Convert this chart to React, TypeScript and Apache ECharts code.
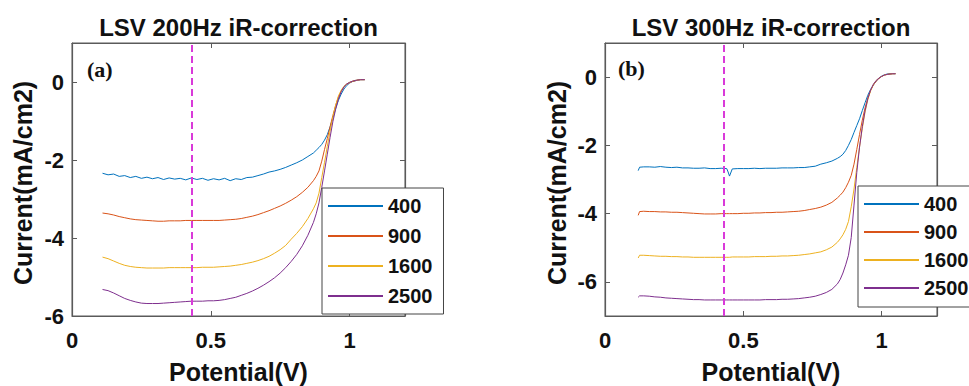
import React, { useEffect, useRef } from "react";
import * as echarts from "echarts";

// ---------- Data ----------
const seriesNames = ["400", "900", "1600", "2500"];
const seriesColors = ["#0072BD", "#D95319", "#EDB120", "#7E2F8E"];
const titles = ["LSV 200Hz iR-correction", "LSV 300Hz iR-correction"];
const panelLabels = ["(a)", "(b)"];
const xTicks = [0, 0.5, 1];
const yTicksA = [-6, -4, -2, 0];
const yTicksB = [-6, -4, -2, 0];
const markerPotential = 0.43;

// Panel (a): 200 Hz
const potentialA = [
  0.11, 0.13, 0.15, 0.17, 0.19, 0.21, 0.23, 0.25, 0.27, 0.29, 0.31, 0.33, 0.35, 0.37, 0.39,
  0.41, 0.43, 0.45, 0.47, 0.49, 0.51, 0.53, 0.55, 0.57, 0.59, 0.61, 0.63, 0.65, 0.67, 0.69,
  0.71, 0.73, 0.75, 0.77, 0.79, 0.81, 0.83, 0.85, 0.87, 0.88, 0.89, 0.9, 0.91, 0.92, 0.93,
  0.94, 0.95, 0.96, 0.97, 0.98, 0.99, 1.0, 1.01, 1.02, 1.03, 1.04, 1.055,
];
const a400 = [
  -2.34, -2.38, -2.36, -2.42, -2.4, -2.45, -2.42, -2.47, -2.44, -2.48, -2.45, -2.5, -2.46, -2.49, -2.47,
  -2.51, -2.46, -2.5, -2.47, -2.52, -2.48, -2.51, -2.47, -2.53, -2.48, -2.5, -2.45, -2.44, -2.4, -2.36,
  -2.31, -2.28, -2.24, -2.19, -2.13, -2.07, -2.0, -1.91, -1.82, -1.75, -1.68, -1.6, -1.49, -1.35, -1.15,
  -0.92, -0.68, -0.47, -0.31, -0.18, -0.09, -0.03, 0.01, 0.03, 0.05, 0.06, 0.06,
];
const a900 = [
  -3.36, -3.38, -3.41, -3.45, -3.48, -3.51, -3.53, -3.54, -3.55, -3.56, -3.57, -3.57, -3.56, -3.56, -3.56,
  -3.55, -3.55, -3.55, -3.55, -3.55, -3.55, -3.55, -3.54, -3.53, -3.52, -3.5, -3.47, -3.44, -3.4, -3.35,
  -3.3, -3.24, -3.18, -3.11, -3.03, -2.94, -2.83, -2.7, -2.53, -2.42, -2.28, -2.03, -1.73, -1.45, -1.15,
  -0.86, -0.6, -0.39, -0.24, -0.13, -0.06, -0.02, 0.01, 0.03, 0.05, 0.06, 0.06,
];
const a1600 = [
  -4.49, -4.53, -4.59, -4.65, -4.7, -4.73, -4.75, -4.76, -4.77, -4.77, -4.77, -4.77, -4.76, -4.76, -4.76,
  -4.76, -4.76, -4.76, -4.75, -4.75, -4.75, -4.74, -4.73, -4.72, -4.7, -4.68, -4.65, -4.62, -4.58, -4.53,
  -4.47, -4.39, -4.3, -4.19, -4.03, -3.88, -3.71, -3.5, -3.25, -3.1, -2.85, -2.45, -2.06, -1.65, -1.26,
  -0.9, -0.6, -0.36, -0.21, -0.11, -0.05, -0.01, 0.02, 0.04, 0.05, 0.06, 0.06,
];
const a2500 = [
  -5.32, -5.35, -5.41, -5.48, -5.55, -5.6, -5.64, -5.67, -5.68, -5.68, -5.68, -5.67, -5.66, -5.65, -5.64,
  -5.63, -5.62, -5.62, -5.62, -5.61, -5.61, -5.6, -5.58, -5.55, -5.52, -5.47, -5.42, -5.36, -5.29, -5.21,
  -5.12, -5.02, -4.9, -4.76, -4.6, -4.42, -4.2, -3.93, -3.6, -3.38, -3.1, -2.7, -2.28, -1.85, -1.42,
  -1.02, -0.7, -0.44, -0.25, -0.12, -0.05, -0.01, 0.02, 0.04, 0.05, 0.06, 0.06,
];

// Panel (b): 300 Hz
const potentialB = [
  0.12, 0.125, 0.14, 0.16, 0.18, 0.2, 0.22, 0.24, 0.26, 0.28, 0.3, 0.32, 0.34, 0.36, 0.38,
  0.4, 0.42, 0.44, 0.445, 0.45, 0.46, 0.48, 0.5, 0.52, 0.54, 0.56, 0.58, 0.6, 0.62, 0.64,
  0.66, 0.68, 0.7, 0.72, 0.74, 0.76, 0.78, 0.8, 0.82, 0.84, 0.85, 0.86, 0.87, 0.88, 0.89,
  0.9, 0.91, 0.92, 0.93, 0.94, 0.95, 0.96, 0.97, 0.98, 0.99, 1.0, 1.01, 1.02, 1.03, 1.04, 1.05,
];
const b400 = [
  -2.74, -2.64, -2.63, -2.63, -2.64, -2.62, -2.64, -2.65, -2.64, -2.66, -2.66, -2.67, -2.67, -2.66, -2.68,
  -2.68, -2.67, -2.68, -2.78, -2.9, -2.69, -2.68, -2.68, -2.68, -2.67, -2.68, -2.67, -2.67, -2.67, -2.66,
  -2.66, -2.66, -2.65, -2.65, -2.63, -2.61, -2.55, -2.51, -2.46, -2.38, -2.33, -2.26, -2.15, -2.0, -1.83,
  -1.62, -1.42, -1.22, -0.98, -0.75, -0.53, -0.36, -0.23, -0.12, -0.03, 0.03, 0.07, 0.09, 0.1, 0.1, 0.1,
];
const b900 = [
  -4.05, -3.94, -3.93, -3.94, -3.94, -3.95, -3.95, -3.96, -3.96, -3.97, -3.98, -3.99, -4.0, -4.01, -4.01,
  -4.01, -4.0, -4.0, -4.0, -4.0, -4.0, -4.0, -3.99, -3.99, -3.98, -3.98, -3.97, -3.97, -3.96, -3.96,
  -3.95, -3.94, -3.93, -3.91, -3.88, -3.85, -3.81, -3.75, -3.67, -3.54, -3.46, -3.37, -3.24, -3.08, -2.88,
  -2.55, -2.12, -1.68, -1.26, -0.9, -0.61, -0.39, -0.23, -0.12, -0.04, 0.02, 0.06, 0.08, 0.09, 0.1, 0.1,
];
const b1600 = [
  -5.3, -5.22, -5.22, -5.23, -5.24, -5.25, -5.25, -5.26, -5.26, -5.27, -5.27, -5.28, -5.28, -5.28, -5.28,
  -5.28, -5.28, -5.28, -5.28, -5.28, -5.27, -5.27, -5.27, -5.27, -5.26, -5.26, -5.26, -5.25, -5.25, -5.24,
  -5.24, -5.23, -5.22, -5.2, -5.18, -5.15, -5.12, -5.06, -4.98, -4.84, -4.74, -4.62, -4.46, -4.23, -3.8,
  -3.28, -2.65, -2.05, -1.5, -1.02, -0.66, -0.4, -0.22, -0.1, -0.03, 0.02, 0.06, 0.08, 0.09, 0.1, 0.1,
];
const b2500 = [
  -6.45, -6.41, -6.41, -6.42, -6.44, -6.45, -6.47, -6.48, -6.49, -6.5, -6.51, -6.52, -6.52, -6.53, -6.53,
  -6.53, -6.53, -6.53, -6.53, -6.53, -6.53, -6.53, -6.53, -6.53, -6.53, -6.53, -6.52, -6.52, -6.52, -6.51,
  -6.51, -6.5, -6.49, -6.47, -6.45, -6.42, -6.37, -6.31, -6.22, -6.06, -5.93, -5.74, -5.5, -5.22, -4.7,
  -3.75, -2.8, -2.05, -1.45, -0.98, -0.63, -0.38, -0.21, -0.1, -0.03, 0.02, 0.06, 0.08, 0.09, 0.1, 0.1,
];

const panelA = [a400, a900, a1600, a2500];
const panelB = [b400, b900, b1600, b2500];

// ---------- Styling ----------
const SANS = "'Liberation Sans', Arial, Helvetica, sans-serif";
const SERIF = "'Liberation Serif', 'Times New Roman', serif";
const AXIS_COLOR = "#5a5a5a";

const grids = [
  { left: 72, top: 43, width: 333, height: 273 },
  { left: 605, top: 43, width: 332, height: 273 },
];

function xAxisFor(gridIndex: number, position: "top" | "bottom") {
  const primary = position === "bottom";
  return {
    type: "value",
    gridIndex,
    position,
    min: 0,
    max: 1.2,
    axisLine: { show: true, onZero: false, lineStyle: { color: AXIS_COLOR, width: 1.2 } },
    axisTick: { show: true, inside: true, length: 5, customValues: xTicks, lineStyle: { color: AXIS_COLOR } },
    axisLabel: primary
      ? {
          show: true,
          customValues: xTicks,
          margin: 13,
          fontSize: 22,
          fontWeight: "bold",
          fontFamily: SANS,
          color: "#111",
        }
      : { show: false },
    splitLine: { show: false },
  };
}

function yAxisFor(gridIndex: number, position: "left" | "right", min: number, ticks: number[]) {
  const primary = position === "left";
  return {
    type: "value",
    gridIndex,
    position,
    min,
    max: 1,
    axisLine: { show: true, onZero: false, lineStyle: { color: AXIS_COLOR, width: 1.2 } },
    axisTick: { show: true, inside: true, length: 5, customValues: ticks, lineStyle: { color: AXIS_COLOR } },
    axisLabel: primary
      ? {
          show: true,
          customValues: ticks,
          margin: 8,
          fontSize: 22,
          fontWeight: "bold",
          fontFamily: SANS,
          color: "#111",
        }
      : { show: false },
    splitLine: { show: false },
  };
}

function buildSeries(potential: number[], panel: number[][], gridIdx: number) {
  const main: any[] = panel.map((vals, i) => ({
    type: "line",
    name: seriesNames[i],
    xAxisIndex: gridIdx * 2,
    yAxisIndex: gridIdx * 2,
    data: potential.map((x, k) => [x, vals[k]]),
    showSymbol: false,
    color: seriesColors[i],
    lineStyle: { width: 1, color: seriesColors[i] },
    z: 3,
    markLine:
      i === 0
        ? {
            silent: true,
            symbol: ["none", "none"],
            label: { show: false },
            lineStyle: { color: "#d93ad9", type: [7, 4], width: 2 },
            data: [{ xAxis: markerPotential }],
          }
        : undefined,
  }));
  // same curve bound to the mirror (top/right) axes, drawn invisibly, so those axes render
  main.push({
    type: "line",
    name: "mirror",
    xAxisIndex: gridIdx * 2 + 1,
    yAxisIndex: gridIdx * 2 + 1,
    data: potential.map((x, k) => [x, panel[0][k]]),
    showSymbol: false,
    lineStyle: { opacity: 0 },
    silent: true,
  });
  return main;
}

function legendFor(left: number, top: number, gap: number, padding: number[], fontSize: number) {
  return {
    show: true,
    data: seriesNames,
    orient: "vertical",
    left,
    top,
    icon: "rect",
    itemWidth: 55,
    itemHeight: 2,
    itemGap: gap,
    padding,
    borderColor: "#444",
    borderWidth: 1,
    borderRadius: 0,
    backgroundColor: "#ffffff",
    selectedMode: false,
    z: 10,
    textStyle: {
      fontSize,
      lineHeight: 20,
      fontWeight: "bold",
      fontFamily: SANS,
      color: "#111",
    },
  };
}

function textEl(text: string, x: number, y: number, font: string, align: string, rotation = 0) {
  return {
    type: "text",
    x,
    y,
    rotation,
    z: 20,
    style: {
      text,
      font,
      fill: "#111",
      align,
      verticalAlign: "middle",
    },
  };
}

export default function App() {
  const ref = useRef<HTMLDivElement>(null);

  useEffect(() => {
    if (!ref.current) return;
    const chart = echarts.init(ref.current, undefined, { renderer: "svg" });

    const centers = grids.map((g) => g.left + g.width / 2);

    const option: any = {
      animation: false,
      backgroundColor: "#ffffff",
      grid: grids.map((g) => ({
        ...g,
        show: true,
        borderColor: AXIS_COLOR,
        borderWidth: 1,
      })),
      xAxis: [
        xAxisFor(0, "bottom"),
        xAxisFor(0, "top"),
        xAxisFor(1, "bottom"),
        xAxisFor(1, "top"),
      ],
      yAxis: [
        yAxisFor(0, "left", -6, yTicksA),
        yAxisFor(0, "right", -6, yTicksA),
        yAxisFor(1, "left", -7, yTicksB),
        yAxisFor(1, "right", -7, yTicksB),
      ],
      legend: [
        legendFor(322, 188, 10, [8, 11, 8, 6], 20),
        legendFor(858, 186, 8, [8, 11, 9, 6], 20),
      ],
      series: [
        ...buildSeries(potentialA, panelA, 0),
        ...buildSeries(potentialB, panelB, 1),
      ],
      graphic: [
        textEl(titles[0], centers[0], 27, `bold 24px ${SANS}`, "center"),
        textEl(titles[1], centers[1], 27, `bold 24px ${SANS}`, "center"),
        textEl(panelLabels[0], 87, 69, `bold 22px ${SERIF}`, "left"),
        textEl(panelLabels[1], 618, 68, `bold 22px ${SERIF}`, "left"),
        textEl("Potential(V)", centers[0], 372, `bold 25px ${SANS}`, "center"),
        textEl("Potential(V)", centers[1], 372, `bold 25px ${SANS}`, "center"),
        textEl("Current(mA/cm2)", 23, 183, `bold 25px ${SANS}`, "center", Math.PI / 2),
        textEl("Current(mA/cm2)", 557, 183, `bold 25px ${SANS}`, "center", Math.PI / 2),
      ],
    };

    chart.setOption(option);
    return () => chart.dispose();
  }, []);

  return <div ref={ref} style={{ position: "absolute", left: 0, top: 0, width: 969, height: 386 }} />;
}
